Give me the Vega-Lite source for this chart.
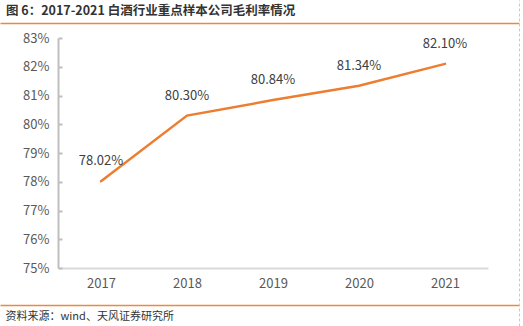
{
  "$schema": "https://vega.github.io/schema/vega-lite/v6.json",
  "autosize": {"type": "none"},
  "padding": {"left": 0, "top": 21, "right": 4, "bottom": 21},
  "width": 519,
  "height": 284,
  "background": "white",
  "title": {
    "text": "图 6：2017-2021 白酒行业重点样本公司毛利率情况",
    "anchor": "start",
    "frame": "group",
    "dx": 6,
    "offset": 4,
    "font": "Noto Sans CJK SC",
    "fontSize": 12.5,
    "fontWeight": "bold",
    "color": "#333333"
  },
  "config": {
    "view": {"stroke": null},
    "font": "Noto Sans CJK SC"
  },
  "data": {
    "values": [
      {"year": "2017", "rate": 78.02, "label": "78.02%"},
      {"year": "2018", "rate": 80.30, "label": "80.30%"},
      {"year": "2019", "rate": 80.84, "label": "80.84%"},
      {"year": "2020", "rate": 81.34, "label": "81.34%"},
      {"year": "2021", "rate": 82.10, "label": "82.10%"}
    ]
  },
  "resolve": {"scale": {"y": "independent"}, "axis": {"y": "independent"}},
  "layer": [
    {
      "mark": {"type": "rule", "opacity": 0},
      "encoding": {
        "y": {
          "datum": 0.5,
          "type": "quantitative",
          "scale": {"domain": [0, 1], "range": [305, -21], "nice": false, "zero": false},
          "axis": {
            "orient": "right",
            "values": [0.064417, 0.928],
            "tickCount": 20,
            "grid": true,
            "gridColor": "#EB8A3E",
            "gridWidth": 1.5,
            "gridOpacity": 1,
            "labels": false,
            "ticks": false,
            "domain": true,
            "domainColor": "#C8C8C8",
            "domainDash": [3, 2],
            "domainWidth": 1,
            "title": null
          }
        }
      }
    },
    {
      "mark": {"type": "line", "color": "#ED7D31", "strokeWidth": 2.5, "strokeCap": "round"},
      "encoding": {
        "x": {
          "field": "year",
          "type": "ordinal",
          "scale": {"type": "point", "range": [58, 488], "padding": 0.5},
          "axis": {
            "offset": -37,
            "labelAngle": 0,
            "labelFontSize": 13,
            "labelColor": "#595959",
            "labelPadding": 9,
            "ticks": false,
            "domainColor": "#D9D9D9",
            "domainWidth": 2,
            "grid": false,
            "title": "资料来源：wind、天风证券研究所",
            "titleAnchor": "start",
            "titleAlign": "left",
            "titleX": 5,
            "titleY": 48,
            "titleBaseline": "middle",
            "titleFontSize": 11,
            "titleFontWeight": "normal",
            "titleColor": "#333333"
          }
        },
        "y": {
          "field": "rate",
          "type": "quantitative",
          "scale": {"domain": [75, 83], "range": [247, 17], "nice": false, "zero": false},
          "axis": {
            "orient": "left",
            "offset": -58,
            "values": [75, 76, 77, 78, 79, 80, 81, 82, 83],
            "tickCount": 20,
            "labelExpr": "datum.value + '%'",
            "labelOverlap": false,
            "labelFontSize": 13,
            "labelColor": "#595959",
            "tickSize": -4,
            "tickColor": "#BFBFBF",
            "tickWidth": 2,
            "labelPadding": 13,
            "domainColor": "#BFBFBF",
            "domainWidth": 2,
            "grid": false,
            "title": null
          }
        }
      }
    },
    {
      "mark": {"type": "text", "dy": -20, "fontSize": 13, "color": "#404040", "baseline": "middle"},
      "encoding": {
        "x": {"field": "year", "type": "ordinal"},
        "y": {
          "field": "rate",
          "type": "quantitative",
          "scale": {"domain": [75, 83], "range": [247, 17], "nice": false, "zero": false},
          "axis": null
        },
        "text": {"field": "label"}
      }
    }
  ]
}
